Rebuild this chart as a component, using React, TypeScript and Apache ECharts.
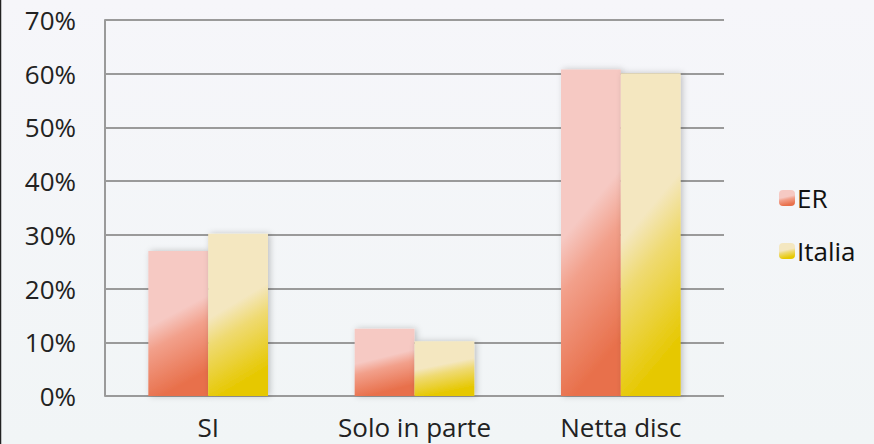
import React, { useEffect, useRef } from "react";
import * as echarts from "echarts";

const categories = ["SI", "Solo in parte", "Netta disc"];
const seriesNames = ["ER", "Italia"];
const erValues = [27.0, 12.5, 60.8];
const italiaValues = [30.2, 10.2, 60.1];
const yTicks = [0, 10, 20, 30, 40, 50, 60, 70];

const FONT = "Open Sans";
const FS = 26;

function grad(light: string, mid: string, dark: string) {
  return new echarts.graphic.LinearGradient(0, 0, 0.22, 1, [
    { offset: 0, color: light },
    { offset: 0.5, color: light },
    { offset: 0.66, color: mid },
    { offset: 1, color: dark },
  ]);
}

export default function App() {
  const ref = useRef<HTMLDivElement>(null);
  useEffect(() => {
    document.body.style.margin = "0";
    const chart = echarts.init(ref.current!, null, { renderer: "svg" });
    const shadow = {
      shadowBlur: 6,
      shadowColor: "rgba(0,0,0,0.22)",
      shadowOffsetX: 2,
      shadowOffsetY: 0,
    };
    chart.setOption({
      animation: false,
      backgroundColor: new echarts.graphic.LinearGradient(0, 0, 0, 1, [
        { offset: 0, color: "#f6f6fa" },
        { offset: 1, color: "#f1f5f6" },
      ]),
      graphic: [
        {
          type: "line",
          shape: { x1: 0.5, y1: 0, x2: 0.5, y2: 444 },
          style: { stroke: "#222", lineWidth: 1.5 },
        },
      ],
      legend: {
        orient: "vertical",
        left: 774,
        top: 180,
        itemWidth: 16,
        itemHeight: 16,
        itemGap: 27,
        data: seriesNames,
        textStyle: { fontFamily: FONT, fontSize: FS, color: "#111", padding: [0, 0, 0, -3] },
      },
      grid: { left: 105, right: 150, top: 20, bottom: 48 },
      xAxis: {
        type: "category",
        data: categories,
        axisLine: { show: false },
        axisTick: { show: false },
        axisLabel: {
          fontFamily: FONT,
          fontSize: FS,
          lineHeight: 26,
          color: "#222",
          margin: 18,
          interval: 0,
        },
      },
      yAxis: {
        type: "value",
        min: yTicks[0],
        max: yTicks[yTicks.length - 1],
        interval: 10,
        axisLine: { show: true, lineStyle: { color: "#9a9a9a", width: 2 } },
        axisTick: { show: false },
        splitLine: { lineStyle: { color: "#9a9a9a", width: 2 } },
        axisLabel: {
          fontFamily: FONT,
          fontSize: FS,
          color: "#222",
          margin: 29,
          formatter: (v: number) => v + "%",
        },
      },
      series: [
        {
          name: seriesNames[0],
          type: "bar",
          data: erValues,
          barGap: "0%",
          barCategoryGap: "42%",
          itemStyle: { color: grad("#f6c9c3", "#f2a08b", "#e8704b"), ...shadow },
        },
        {
          name: seriesNames[1],
          type: "bar",
          data: italiaValues,
          barGap: "0%",
          barCategoryGap: "42%",
          itemStyle: { color: grad("#f4e7c0", "#efda72", "#e6c800"), ...shadow },
        },
      ],
    });
    return () => chart.dispose();
  }, []);
  return (
    <div
      ref={ref}
      style={{ position: "absolute", left: 0, top: 0, width: 874, height: 444 }}
    />
  );
}
